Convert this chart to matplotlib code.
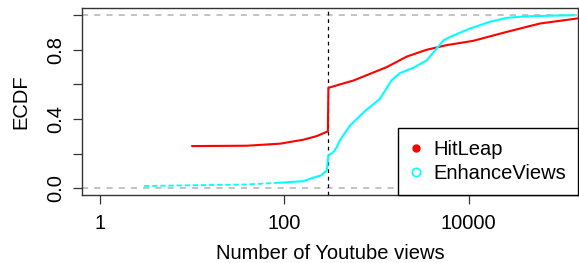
import matplotlib
matplotlib.use("Agg")
import matplotlib.pyplot as plt
from matplotlib.lines import Line2D

plt.rcParams['font.family'] = ['Liberation Sans', 'DejaVu Sans']

# ECDF curves (views, fraction)
hit_views = [10, 39, 90, 161, 222, 296, 300, 565, 1290, 2130, 3480, 5760,
             11200, 26000, 59000, 149000]
hit_ecdf = [0.243, 0.245, 0.257, 0.280, 0.300, 0.328, 0.580, 0.623, 0.700,
            0.761, 0.800, 0.827, 0.852, 0.904, 0.952, 0.981]

enh_tail_views = [3, 39, 90]
enh_tail_ecdf = [0.012, 0.021, 0.031]
enh_views = [90, 161, 205, 250, 288, 300, 340, 370, 395, 515, 725, 1090, 1450,
             1790, 2500, 3480, 4300, 5300, 6300, 10300, 17000, 26000, 42500,
             135000]
enh_ecdf = [0.031, 0.040, 0.060, 0.073, 0.102, 0.189, 0.208, 0.237, 0.272,
            0.362, 0.439, 0.517, 0.623, 0.665, 0.696, 0.738, 0.796, 0.854,
            0.875, 0.923, 0.962, 0.985, 0.994, 1.0]

cut = 300
x_ticks = [1, 100, 10000]
y_ticks = [0.0, 0.2, 0.4, 0.6, 0.8, 1.0]
y_labels = ['0.0', '', '0.4', '', '0.8', '']

fs = 14.5

fig = plt.figure(figsize=(5.79, 2.63), dpi=100)
ax = fig.add_axes([0.141, 0.2586, 0.8573, 0.7098])

ax.axhline(0, color='#b3b3b3', ls=(0, (4, 4)), lw=1.1)
ax.axhline(1, color='#b3b3b3', ls=(0, (4, 4)), lw=1.1)
ax.axvline(cut, color='black', ls=(0, (3, 3)), lw=0.9)

ax.plot(hit_views, hit_ecdf, color='red', lw=1.5)
ax.plot(enh_tail_views, enh_tail_ecdf, color='cyan', lw=1.3, ls=(0, (3, 1.5)))
ax.plot(enh_views, enh_ecdf, color='cyan', lw=1.5)

ax.set_xscale('log')
ax.set_xlim(10 ** -0.2, 10 ** 5.185)
ax.set_ylim(-0.04, 1.04)
ax.set_xticks(x_ticks)
ax.set_xticklabels([str(v) for v in x_ticks])
ax.minorticks_off()
ax.set_yticks(y_ticks)
ax.set_yticklabels(y_labels, rotation=90, va='center')

ax.tick_params(direction='out', length=6.5, width=0.9, colors='#333333',
               labelcolor='black', labelsize=fs)
ax.tick_params(axis='x', pad=7)
ax.tick_params(axis='y', pad=5)
for s in ax.spines.values():
    s.set_color('#333333')
    s.set_linewidth(1.0)

ax.set_xlabel('Number of Youtube views', fontsize=fs, labelpad=8)
ax.set_ylabel('ECDF', fontsize=fs, labelpad=12)

handles = [
    Line2D([], [], ls='none', marker='o', markersize=5, color='red'),
    Line2D([], [], ls='none', marker='o', markersize=6, markerfacecolor='none',
           markeredgecolor='cyan', markeredgewidth=1.2),
]
leg = ax.legend(handles, ['HitLeap', 'EnhanceViews'], loc='lower right',
                borderaxespad=0, fancybox=False, framealpha=1, fontsize=fs,
                handlelength=0.6, handletextpad=0.55, borderpad=0.6,
                labelspacing=0.25)
leg.get_frame().set_edgecolor('black')
leg.get_frame().set_linewidth(1.0)

fig.savefig('out.png', dpi=100)
